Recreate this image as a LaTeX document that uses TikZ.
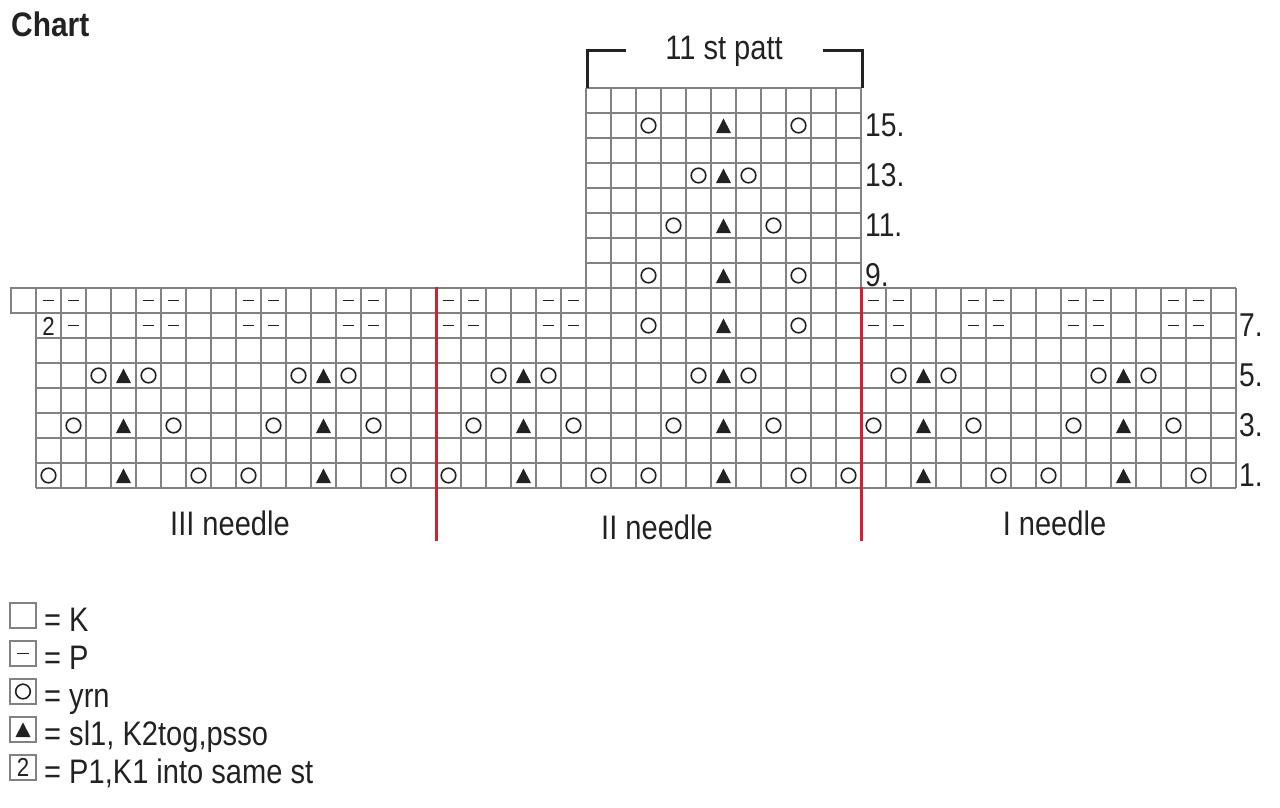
\documentclass[tikz,border=0pt]{standalone}
\usepackage{fontspec}
\setmainfont{Liberation Sans}[FakeStretch=0.855]
\newfontfamily\titlefont{Liberation Sans}[FakeStretch=0.88]
\definecolor{ink}{HTML}{222222}
\definecolor{gridgray}{HTML}{828282}
\definecolor{needlered}{HTML}{D0222E}
\tikzset{
  gridline/.style={draw=gridgray, line width=1.8pt},
  redline/.style={draw=needlered, line width=3pt},
  yrn/.style={draw=ink, line width=1.6pt},
  dec/.style={fill=ink, draw=none},
  purl/.style={draw=ink, line width=1.4pt},
  bigtxt/.style={inner sep=0pt, text=ink, font=\fontsize{34}{40}\selectfont},
  rowlbl/.style={inner sep=0pt, text=ink, font=\fontsize{33}{38}\selectfont, anchor=base west},
  legbox/.style={draw=gridgray, line width=1.8pt},
  bracket/.style={draw=ink, line width=3pt}
}
% cell centre helpers: column c -> x = 48.5 + 25c ; row r -> y = 500.5 - 25r
\newcommand\yrnat[2]{\draw[yrn] ({48.5+25*#1},{500.5-25*#2}) circle (7.3);}
\newcommand\decat[2]{\fill[dec] ({48.5+25*#1-7.5},{500.5-25*#2+7.5}) -- ({48.5+25*#1+7.5},{500.5-25*#2+7.5}) -- ({48.5+25*#1},{500.5-25*#2-7}) -- cycle;}
\newcommand\purlat[2]{\draw[purl] ({48.5+25*#1-5.8},{500.5-25*#2}) -- ({48.5+25*#1+5.8},{500.5-25*#2});}
\begin{document}
\begin{tikzpicture}[x=1pt,y=-1pt]
\path[use as bounding box, fill=white] (0,0) rectangle (1280,807);

% ---------- main grid (rows 1-8, 48 columns) ----------
\foreach \k in {0,...,8} \draw[gridline] (36,{288+25*\k}) -- (1236,{288+25*\k});
\foreach \c in {0,...,48} \draw[gridline] ({36+25*\c},288) -- ({36+25*\c},488);
% extra cell at left of row 8
\draw[gridline] (36,288) -- (11,288) -- (11,313) -- (36,313);

% ---------- top chart (rows 9-16, 11 columns) ----------
\foreach \k in {0,...,8} \draw[gridline] (586,{88+25*\k}) -- (861,{88+25*\k});
\foreach \c in {0,...,11} \draw[gridline] ({586+25*\c},88) -- ({586+25*\c},288);

% ---------- symbols ----------
% row 1
\foreach \c in {0,6,8,14,16,22,24,30,32,38,40,46} {\yrnat{\c}{1}}
\foreach \c in {3,11,19,27,35,43} {\decat{\c}{1}}
% row 3
\foreach \c in {1,5,9,13,17,21,25,29,33,37,41,45} {\yrnat{\c}{3}}
\foreach \c in {3,11,19,27,35,43} {\decat{\c}{3}}
% row 5
\foreach \c in {2,4,10,12,18,20,26,28,34,36,42,44} {\yrnat{\c}{5}}
\foreach \c in {3,11,19,27,35,43} {\decat{\c}{5}}
% row 7
\foreach \c in {24,30} {\yrnat{\c}{7}}
\decat{27}{7}
\foreach \c in {1,4,5,8,9,12,13,16,17,20,21,33,34,37,38,41,42,45,46} {\purlat{\c}{7}}
\node[inner sep=0pt, text=ink, font=\fontsize{26}{30}\selectfont] (two) at (48.5,326) {2};
% row 8
\foreach \c in {0,1,4,5,8,9,12,13,16,17,20,21,33,34,37,38,41,42,45,46} {\purlat{\c}{8}}
% rows 9-15
\foreach \r in {9,15} {\yrnat{24}{\r}\yrnat{30}{\r}\decat{27}{\r}}
\yrnat{25}{11}\yrnat{29}{11}\decat{27}{11}
\yrnat{26}{13}\yrnat{28}{13}\decat{27}{13}

% ---------- needle dividers ----------
\coordinate (r1top) at (436,287);
\coordinate (r1bot) at (436,541);
\coordinate (r2top) at (861.5,287);
\coordinate (r2bot) at (861.5,541);
\draw[redline] (r1top) -- (r1bot);
\draw[redline] (r2top) -- (r2bot);

% ---------- bracket ----------
\coordinate (bl1) at (587,88);
\coordinate (bl2) at (587,50);
\coordinate (bl3) at (626,50);
\coordinate (br1) at (823,50);
\coordinate (br2) at (862,50);
\coordinate (br3) at (862,88);
\draw[bracket] (bl1) -- (bl2) -- (bl3);
\draw[bracket] (br1) -- (br2) -- (br3);

% ---------- texts ----------
\node[inner sep=0pt, text=ink, anchor=base west, font=\titlefont\bfseries\fontsize{34}{40}\selectfont] (title) at (11,36) {Chart};
\node[bigtxt, anchor=base] (patt) at (724,59.5) {11 st patt};
\node[bigtxt, anchor=base] (n3) at (230,535) {III needle};
\node[bigtxt, anchor=base] (n2) at (657,539) {II needle};
\node[bigtxt, anchor=base] (n1) at (1054.5,535) {I needle};

\node[rowlbl] (l9) at (865,286.5) {9.};
\node[rowlbl] (l11) at (865,236.5) {11.};
\node[rowlbl] (l13) at (865,186.5) {13.};
\node[rowlbl] (l15) at (865,136.5) {15.};
\node[rowlbl] (l1) at (1239,486) {1.};
\node[rowlbl] (l3) at (1239,436) {3.};
\node[rowlbl] (l5) at (1239,386) {5.};
\node[rowlbl] (l7) at (1239,336) {7.};

% ---------- legend ----------
\foreach \i/\t in {0/{= K},1/{= P},2/{= yrn},3/{= sl1, K2tog,psso},4/{= P1,K1 into same st}} {
  \draw[legbox] (10,{603+38*\i}) rectangle (36,{628+38*\i});
  \node[bigtxt, anchor=base west] (leg\i) at (44,{631+38*\i}) {\t};
}
\draw[purl] (17,653.5) -- (29,653.5);
\draw[yrn] (23,691.5) circle (7.3);
\fill[dec] (15.5,737) -- (30.5,737) -- (23,722.5) -- cycle;
\node[inner sep=0pt, text=ink, font=\fontsize{26}{30}\selectfont] (leg2sym) at (23,767.5) {2};
\end{tikzpicture}
\end{document}
